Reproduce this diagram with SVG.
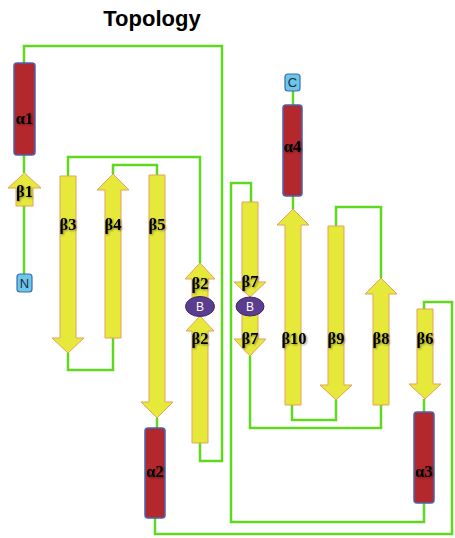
<svg xmlns="http://www.w3.org/2000/svg" width="455" height="538" viewBox="0 0 455 538">
<defs>
<filter id="sh" x="-30%" y="-30%" width="160%" height="160%">
<feGaussianBlur in="SourceAlpha" stdDeviation="0.8" result="b"/>
<feOffset dx="0.6" dy="0.8" result="o"/>
<feFlood flood-color="#000" flood-opacity="0.45"/>
<feComposite in2="o" operator="in" result="s"/>
<feMerge><feMergeNode in="s"/><feMergeNode in="SourceGraphic"/></feMerge>
</filter>
</defs>
<style>
.title{font-family:"Liberation Sans",Arial,sans-serif;font-weight:bold;font-size:22px;fill:#000}
.ln{fill:none;stroke:#5fd81f;stroke-width:2.5;stroke-linejoin:miter}
.sh{fill:#e6e93a;stroke:#e3a15f;stroke-width:1}
.hx{fill:#b3282d;stroke:#4a62b0;stroke-width:1.5}
.lb{font-family:"Liberation Serif","Times New Roman",serif;font-weight:bold;font-size:16.5px;fill:#000;text-anchor:middle;dominant-baseline:central;filter:url(#sh)}
.tm{fill:#6cc6e6;stroke:#3a6cb0;stroke-width:1.2}
.tt{font-family:"Liberation Sans",Arial,sans-serif;font-size:13px;fill:#1a2a4a;text-anchor:middle;dominant-baseline:central}
.bb{fill:#5b3d8f;stroke:#3c2a6a;stroke-width:1}
.bt{font-family:"Liberation Sans",Arial,sans-serif;font-size:12px;fill:#fff;text-anchor:middle;dominant-baseline:central}
</style>
<rect width="455" height="538" fill="#fff"/>
<text class="title" x="152" y="26" text-anchor="middle">Topology</text>
<g id="connectors">
<polyline class="ln" points="24,274 24,206"/>
<polyline class="ln" points="24,173 24,155"/>
<polyline class="ln" points="24,63 24,46 222,46 222,461 200,461 200,443"/>
<polyline class="ln" points="200,263 200,157 68,157 68,176"/>
<polyline class="ln" points="68,353 68,370 113,370 113,338"/>
<polyline class="ln" points="113,174 113,165 157,165 157,175"/>
<polyline class="ln" points="157,418 157,428"/>
<polyline class="ln" points="155,518 155,534 452,534 452,302 424,302 424,309"/>
<polyline class="ln" points="424,399 424,412"/>
<polyline class="ln" points="424,503 424,522 231,522 231,183 251,183 251,202"/>
<polyline class="ln" points="250,356 250,428 381,428 381,405"/>
<polyline class="ln" points="381,278 381,207 336,207 336,226"/>
<polyline class="ln" points="336,400 336,420 292,420 292,405"/>
<polyline class="ln" points="293,209 293,196"/>
<polyline class="ln" points="293,105 293,91"/>
</g>
<g id="N"><rect class="tm" x="17" y="274" width="15" height="18" rx="3"/><text class="tt" x="24.5" y="283.5">N</text></g>
<g id="b1"><polygon class="sh" points="24.5,173 41,188 33,188 33,206 16,206 16,188 8,188"/><text class="lb" x="24.5" y="191">β1</text></g>
<g id="a1"><rect class="hx" x="14" y="63" width="21" height="92" rx="3"/><text class="lb" x="24.5" y="118">α1</text></g>
<g id="b3"><polygon class="sh" points="60,176 76,176 76,338 84,338 68,353 52,338 60,338"/><text class="lb" x="68" y="224">β3</text></g>
<g id="b4"><polygon class="sh" points="113,174 129,190 121,190 121,338 105,338 105,190 97,190"/><text class="lb" x="113" y="224">β4</text></g>
<g id="b5"><polygon class="sh" points="149,175 165,175 165,402 173,402 157,418 141,402 149,402"/><text class="lb" x="157" y="224">β5</text></g>
<g id="a2"><rect class="hx" x="145" y="428" width="20" height="90" rx="3"/><text class="lb" x="155" y="471">α2</text></g>
<g id="b2a"><polygon class="sh" points="200,263 215,279 208,279 208,302 192,302 192,279 185,279"/><text class="lb" x="200" y="283">β2</text></g>
<g id="b2b"><polygon class="sh" points="200,316 214,331 208,331 208,443 192,443 192,331 186,331"/><text class="lb" x="200" y="338">β2</text></g>
<g id="B1"><ellipse class="bb" cx="200" cy="306.5" rx="14.5" ry="10"/><text class="bt" x="200" y="307">B</text></g>
<g id="b7a"><polygon class="sh" points="242,202 258,202 258,282 266,282 250,297 234,282 242,282"/><text class="lb" x="250" y="281">β7</text></g>
<g id="b7b"><polygon class="sh" points="242,312 258,312 258,339 266,339 250,356 234,339 242,339"/><text class="lb" x="250" y="338">β7</text></g>
<g id="B2"><ellipse class="bb" cx="250" cy="306.5" rx="14" ry="9.5"/><text class="bt" x="250" y="307">B</text></g>
<g id="C"><rect class="tm" x="285" y="74" width="15" height="17" rx="3"/><text class="tt" x="292.5" y="82.5">C</text></g>
<g id="a4"><rect class="hx" x="283" y="105" width="19" height="91" rx="3"/><text class="lb" x="292.5" y="146">α4</text></g>
<g id="b10"><polygon class="sh" points="293,209 309,225 301,225 301,405 285,405 285,225 277,225"/><text class="lb" x="294" y="338">β10</text></g>
<g id="b9"><polygon class="sh" points="328,226 344,226 344,385 352,385 336,400 320,385 328,385"/><text class="lb" x="336" y="338">β9</text></g>
<g id="b8"><polygon class="sh" points="381,278 397,294 389,294 389,405 373,405 373,294 365,294"/><text class="lb" x="381" y="338">β8</text></g>
<g id="b6"><polygon class="sh" points="417,309 433,309 433,384 441,384 425,399 409,384 417,384"/><text class="lb" x="425" y="338">β6</text></g>
<g id="a3"><rect class="hx" x="414" y="412" width="20" height="91" rx="3"/><text class="lb" x="424" y="471">α3</text></g>
</svg>
